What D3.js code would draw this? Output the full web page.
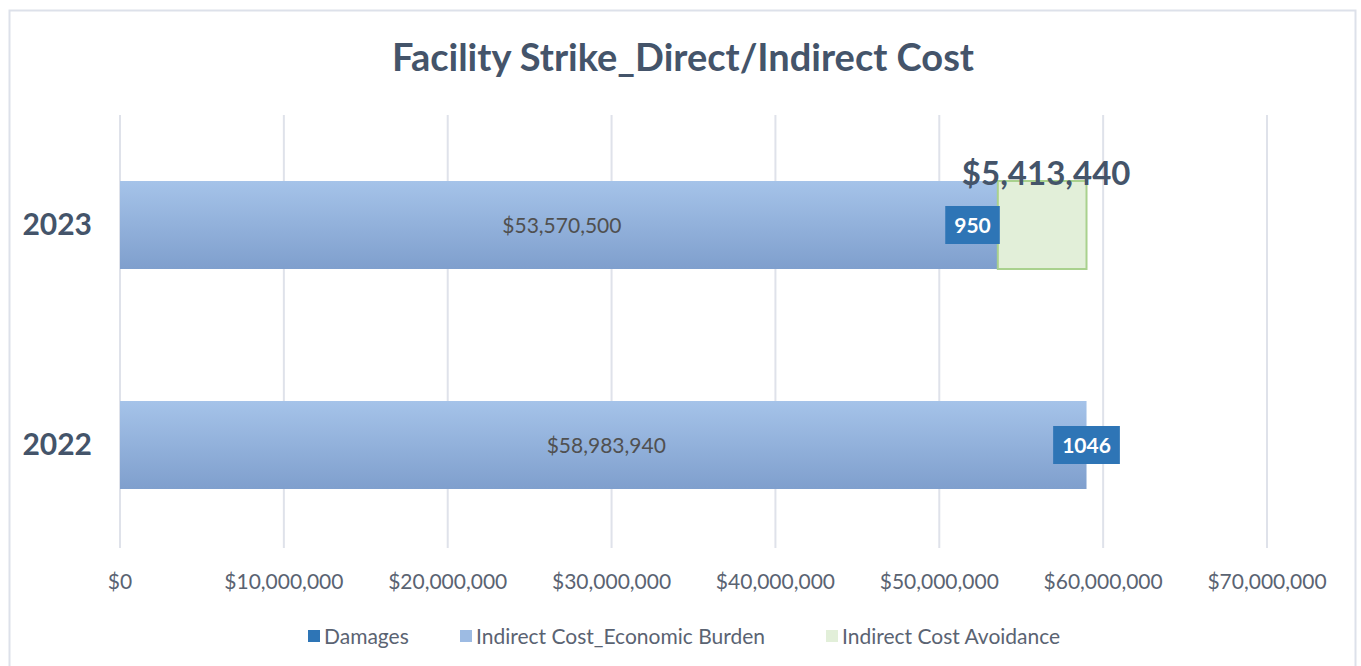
<!DOCTYPE html>
<html>
<head>
<meta charset="utf-8">
<script src="https://cdn.jsdelivr.net/npm/d3@7"></script>
<style>
  body { margin: 0; background: #fff; }
  text { font-family: Lato, "Open Sans", sans-serif; }
</style>
</head>
<body>
<svg id="chart"></svg>
<script>
// chart data
const years = ["2023", "2022"];
const damages = [950, 1046];
const burden = [53570500, 58983940];
const avoidance = [5413440, 0];
const seriesNames = ["Damages", "Indirect Cost_Economic Burden", "Indirect Cost Avoidance"];
const xTicks = [0, 10000000, 20000000, 30000000, 40000000, 50000000, 60000000, 70000000];

const W = 1361, H = 666;
const margin = {top: 115, right: 94, bottom: 111, left: 120};
const width = W - margin.left - margin.right,
      height = H - margin.top - margin.bottom;
const gridH = 433;

const svg = d3.select("#chart").attr("width", W).attr("height", H);

// chart frame
svg.append("rect")
  .attr("x", 9.5).attr("y", 10.5)
  .attr("width", 1346).attr("height", 670)
  .attr("fill", "#fff").attr("stroke", "#dde1ea").attr("stroke-width", 2);

const defs = svg.append("defs");
const grad = defs.append("linearGradient").attr("id", "burdenGrad")
  .attr("x1", 0).attr("y1", 0).attr("x2", 0).attr("y2", 1);
grad.append("stop").attr("offset", "0%").attr("stop-color", "#a5c3e9");
grad.append("stop").attr("offset", "100%").attr("stop-color", "#7f9fcd");

const g = svg.append("g").attr("transform", `translate(${margin.left},${margin.top})`);

const x = d3.scaleLinear().domain([0, 70000000]).range([0, 1147]);
const y = d3.scaleBand().domain(years).range([0, height]).paddingInner(0.6).paddingOuter(0.3);

// gridlines
g.selectAll(".grid").data(xTicks).join("line")
  .attr("x1", d => x(d)).attr("x2", d => x(d))
  .attr("y1", 0).attr("y2", gridH)
  .attr("stroke", "#dfe2ea").attr("stroke-width", 2);

// x axis labels
const fmt = d => "$" + d3.format(",")(d);
g.selectAll(".xlab").data(xTicks).join("text")
  .attr("x", d => x(d)).attr("y", gridH + 41)
  .attr("text-anchor", "middle")
  .attr("font-size", 21).attr("fill", "#5a6372")
  .text(fmt);

// y labels
g.selectAll(".ylab").data(years).join("text")
  .attr("x", -28).attr("y", d => y(d) + y.bandwidth() / 2 + 10)
  .attr("text-anchor", "end")
  .attr("font-size", 30).attr("font-weight", "bold").attr("fill", "#44546a")
  .text(d => d);

// stacked bars
const rows = years.map((yr, i) => ({yr, damages: damages[i], burden: burden[i], avoidance: avoidance[i]}));
const stack = d3.stack().keys(["burden", "damages", "avoidance"])(rows);
const fills = ["url(#burdenGrad)", "#2e75b6", "#e2efd9"];
const strokes = ["none", "none", "#a9d18e"];

stack.forEach((s, k) => {
  g.selectAll(".s" + k).data(s).join("rect")
    .attr("x", d => x(d[0]))
    .attr("y", d => y(d.data.yr))
    .attr("width", d => x(d[1]) - x(d[0]))
    .attr("height", y.bandwidth())
    .attr("fill", fills[k])
    .attr("stroke", d => (d[1] - d[0]) > 0 ? strokes[k] : "none")
    .attr("stroke-width", 2);
});

// burden labels
stack[0].forEach(d => {
  g.append("text")
    .attr("x", (x(d[0]) + x(d[1])) / 2 + 3)
    .attr("y", y(d.data.yr) + y.bandwidth() / 2 + 8)
    .attr("text-anchor", "middle")
    .attr("font-size", 21).attr("fill", "#505050")
    .text(fmt(d.data.burden));
});

// damages labels (boxed)
stack[1].forEach((d, i) => {
  const cy = y(d.data.yr) + y.bandwidth() / 2;
  const cx = x(d[1]);
  const lbl = g.append("g");
  const t = lbl.append("text")
    .attr("y", cy + 8)
    .attr("text-anchor", "middle")
    .attr("font-size", 21).attr("font-weight", "bold").attr("fill", "#fff")
    .text(d.data.damages);
  const w = t.node().getComputedTextLength() + 18;
  const bx = i === 0 ? cx - w + 2 : cx - w / 2;
  t.attr("x", bx + w / 2);
  lbl.insert("rect", "text")
    .attr("x", bx).attr("y", cy - 19)
    .attr("width", w).attr("height", 38)
    .attr("fill", "#2e75b6");
});

// avoidance label
stack[2].filter(d => d.data.avoidance > 0).forEach(d => {
  g.append("text")
    .attr("x", (x(d[0]) + x(d[1])) / 2 + 4)
    .attr("y", y(d.data.yr) + 4)
    .attr("text-anchor", "middle")
    .attr("font-size", 33).attr("font-weight", "bold").attr("fill", "#44546a")
    .text(fmt(d.data.avoidance));
});

// title
svg.append("text")
  .attr("x", 683).attr("y", 71)
  .attr("text-anchor", "middle")
  .attr("font-size", 38).attr("font-weight", "bold").attr("fill", "#44546a")
  .text("Facility Strike_Direct/Indirect Cost");

// legend
const legendX = [308, 460, 826];
const legendFill = ["#2e75b6", "#9dbbe3", "#e2efd9"];
const leg = svg.selectAll(".leg").data(seriesNames).join("g")
  .attr("transform", (d, i) => `translate(${legendX[i]},636)`);
leg.append("rect").attr("x", 0).attr("y", -6).attr("width", 12).attr("height", 12)
  .attr("fill", (d, i) => legendFill[i]);
leg.append("text").attr("x", 16).attr("y", 8)
  .attr("font-size", 21).attr("fill", "#5a6372")
  .text(d => d);
</script>
</body>
</html>
